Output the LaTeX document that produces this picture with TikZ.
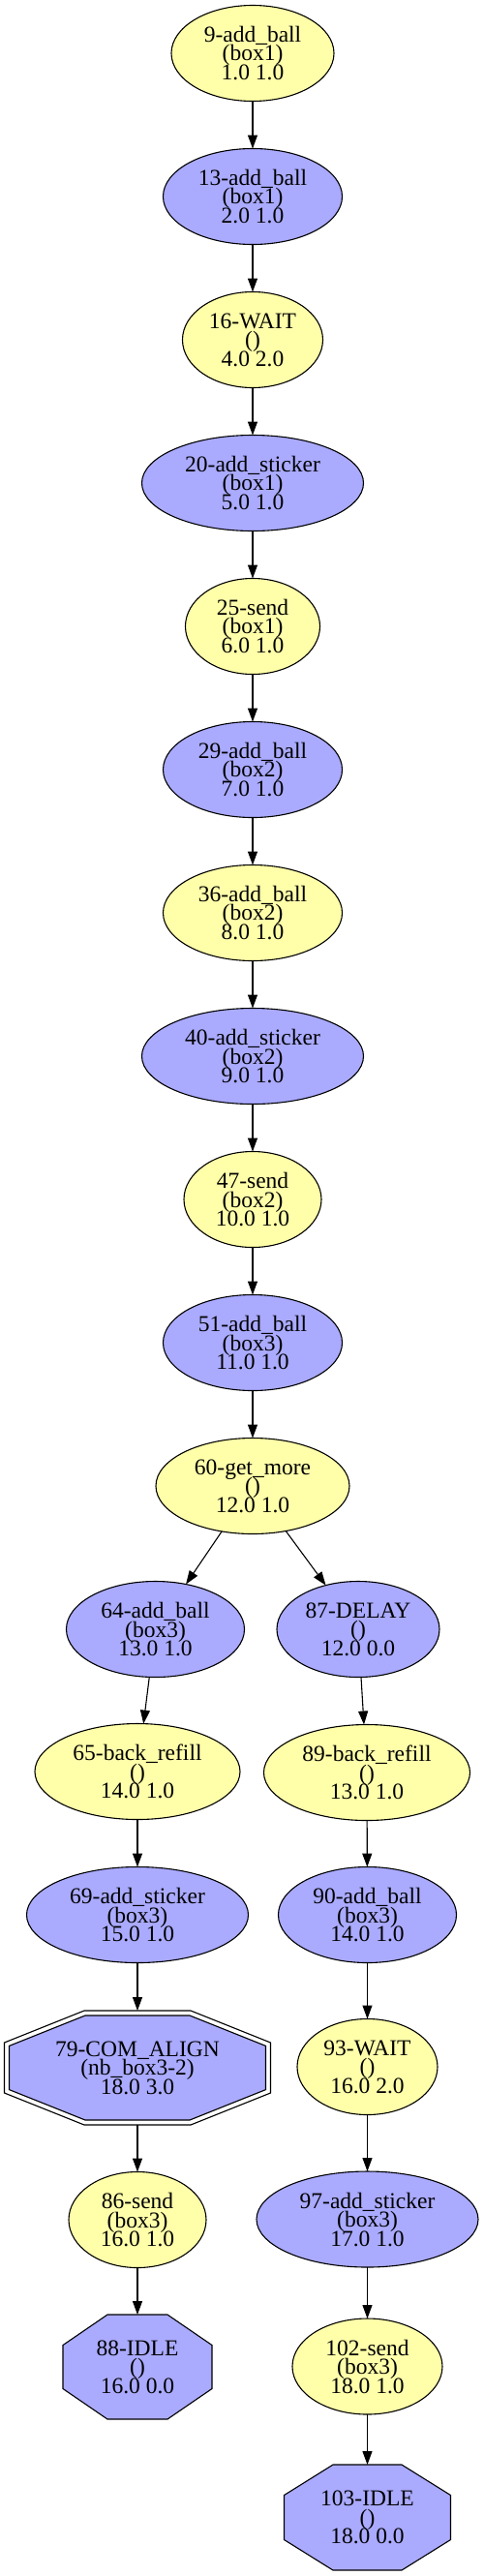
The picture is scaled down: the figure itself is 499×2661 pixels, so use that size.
\documentclass[tikz,border=0pt]{standalone}
\usepackage{fontspec}
\setmainfont{Liberation Serif}
\usetikzlibrary{shapes.geometric,positioning,arrows.meta,backgrounds}

\definecolor{stepyellow}{RGB}{255,255,170}
\definecolor{stepblue}{RGB}{170,170,255}
\lineskiplimit=-20pt

% octagon outline round a node: style, node, half width, half height, half top, half side
\newcommand{\octagonbox}[6]{%
    \draw[#1, shift={(#2)}] (-#5,-#4) -- (#5,-#4) -- (#3,-#6) -- (#3,#6) -- (#5,#4) -- (-#5,#4) -- (-#3,#6) -- (-#3,-#6) -- cycle;}

\begin{document}
\begin{tikzpicture}[
        x=1pt, y=-1pt,
        node font=\fontsize{23.5}{19.5}\selectfont,
        stepnode/.style={ellipse, draw, line width=1.1pt, minimum height=99pt, inner sep=0pt, outer sep=0pt, align=center},
        yel/.style={stepnode, fill=stepyellow},
        blu/.style={stepnode, fill=stepblue},
        octnode/.style={rectangle, inner sep=0pt, outer sep=0pt, align=center},
        octfill/.style={draw, line width=1.1pt, fill=stepblue},
        octring/.style={draw, line width=1.1pt, fill=white},
        flow/.style={line width=1.1pt, -{Triangle[length=14pt, width=10pt]}}
    ]
    \useasboundingbox (0,0) rectangle (499,2661);

% --- main chain ---
    \node[yel, minimum width=168pt] (n9) at (261,55) {9-add\_ball\\(box1)\\1.0 1.0};
    \node[blu, minimum width=185pt, below=49pt of n9] (n13) {13-add\_ball\\(box1)\\2.0 1.0};
    \node[yel, minimum width=145pt, below=49pt of n13] (n16) {16-WAIT\\()\\4.0 2.0};
    \node[blu, minimum width=229pt, below=49pt of n16] (n20) {20-add\_sticker\\(box1)\\5.0 1.0};
    \node[yel, minimum width=139pt, below=49pt of n20] (n25) {25-send\\(box1)\\6.0 1.0};
    \node[blu, minimum width=185pt, below=49pt of n25] (n29) {29-add\_ball\\(box2)\\7.0 1.0};
    \node[yel, minimum width=185pt, below=49pt of n29] (n36) {36-add\_ball\\(box2)\\8.0 1.0};
    \node[blu, minimum width=229pt, below=49pt of n36] (n40) {40-add\_sticker\\(box2)\\9.0 1.0};
    \node[yel, minimum width=142pt, below=49pt of n40] (n47) {47-send\\(box2)\\10.0 1.0};
    \node[blu, minimum width=185pt, below=49pt of n47] (n51) {51-add\_ball\\(box3)\\11.0 1.0};
    \node[yel, minimum width=200pt, below=49pt of n51] (n60) {60-get\_more\\()\\12.0 1.0};

% --- left branch ---
    \node[blu, minimum width=184pt, below=49pt of n60, xshift=-100.5pt] (n64) {64-add\_ball\\(box3)\\13.0 1.0};
    \node[yel, minimum width=212pt, below=48pt of n64, xshift=-18.5pt] (n65) {65-back\_refill\\()\\14.0 1.0};
    \node[blu, minimum width=229pt, below=49pt of n65] (n69) {69-add\_sticker\\(box3)\\15.0 1.0};
    \node[octnode, minimum width=275pt, minimum height=118pt, below=49.5pt of n69] (n79) {79-COM\_ALIGN\\(nb\_box3-2)\\18.0 3.0};
    \node[yel, minimum width=142pt, below=48.5pt of n79] (n86) {86-send\\(box3)\\16.0 1.0};
    \node[octnode, minimum width=154pt, minimum height=108pt, below=48.5pt of n86] (n88) {88-IDLE\\()\\16.0 0.0};

% --- right branch ---
    \node[blu, minimum width=168pt, below=49pt of n60, xshift=109pt] (n87) {87-DELAY\\()\\12.0 0.0};
    \node[yel, minimum width=213pt, below=49pt of n87, xshift=9pt] (n89) {89-back\_refill\\()\\13.0 1.0};
    \node[blu, minimum width=184pt, below=48pt of n89, xshift=0.5pt] (n90) {90-add\_ball\\(box3)\\14.0 1.0};
    \node[yel, minimum width=145pt, below=58pt of n90] (n93) {93-WAIT\\()\\16.0 2.0};
    \node[blu, minimum width=229pt, below=58.5pt of n93] (n97) {97-add\_sticker\\(box3)\\17.0 1.0};
    \node[yel, minimum width=155pt, below=53pt of n97] (n102) {102-send\\(box3)\\18.0 1.0};
    \node[octnode, minimum width=172pt, minimum height=109pt, below=52pt of n102] (n103) {103-IDLE\\()\\18.0 0.0};

% --- octagons behind the text ---
    \begin{pgfonlayer}{background}
        \octagonbox{octring}{n79}{137.5}{59}{55}{26}
        \octagonbox{octfill}{n79}{132.5}{54}{54}{22.6}
        \octagonbox{octfill}{n88}{77}{54}{31}{22.5}
        \octagonbox{octfill}{n103}{86}{54.5}{35.5}{23}
    \end{pgfonlayer}

% --- edges ---
    \foreach \a/\b in {9/13,13/16,16/20,20/25,25/29,29/36,36/40,40/47,47/51,51/60,
                       60/64,64/65,65/69,69/79,79/86,86/88,
                       60/87,87/89,89/90,90/93,93/97,97/102,102/103}
        \draw[flow] (n\a) -- (n\b);

\end{tikzpicture}
\end{document}
